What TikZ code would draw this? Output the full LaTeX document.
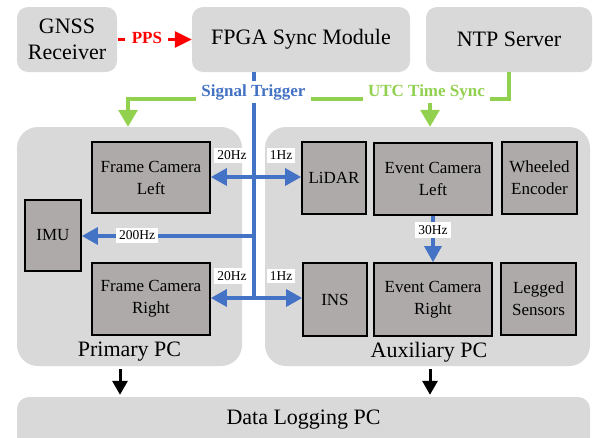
\documentclass[tikz,border=0pt]{standalone}
\usepackage{fontspec}
\newfontfamily\timesrm{Liberation Serif}
\usetikzlibrary{arrows.meta,calc}
\definecolor{panel}{HTML}{D9D9D9}
\definecolor{device}{HTML}{AEAAAA}
\definecolor{sigblue}{HTML}{4472C4}
\definecolor{utcgreen}{HTML}{92D050}
\begin{document}
\begin{tikzpicture}[x=1pt,y=-1pt,
  topbox/.style={fill=panel, rounded corners=11pt, minimum height=65pt,
    inner sep=0pt, align=center, font=\timesrm\fontsize{22}{26}\selectfont},
  pcbox/.style={fill=panel, rounded corners=21pt, inner sep=0pt},
  pctext/.style={inner sep=0pt, font=\timesrm\fontsize{22}{26}\selectfont},
  dev/.style={draw=black, line width=1.7pt, fill=device, inner sep=0pt,
    align=center, font=\timesrm\fontsize{17}{22}\selectfont},
  hz/.style={fill=white, inner xsep=3pt, inner ysep=3pt,
    font=\timesrm\fontsize{13.5}{15}\selectfont},
  sig/.style={draw=sigblue, line width=3.2pt},
  sigtip/.style={-{Triangle[width=17pt,length=16pt]}},
  utc/.style={draw=utcgreen, line width=3.2pt},
  utctip/.style={-{Triangle[width=19pt,length=17pt]}},
  buslabel/.style={fill=white, inner xsep=5pt, inner ysep=3pt,
    font=\timesrm\bfseries\fontsize{17}{20}\selectfont},
  blk/.style={draw=black, line width=3pt, -{Triangle[width=15pt,length=14pt]}},
]
\useasboundingbox (0,0) rectangle (593,437);
\clip (0,0) rectangle (593,437);

% ---- top row: time sources and the sync module
\node[topbox, minimum width=100pt] (gnss) at (67,39.5) {GNSS\\Receiver};
\node[topbox, minimum width=218pt] (fpga) at (301,39.5) {FPGA Sync Module};
\node[topbox, minimum width=166pt] (ntp) at (509,39.5) {NTP Server};

% ---- computer panels
\node[pcbox, minimum width=225pt, minimum height=239pt] (primary) at (129.5,246.5) {};
\node[pcbox, minimum width=325pt, minimum height=239pt] (aux) at (427.5,246.5) {};
\node[pcbox, rounded corners=12pt, minimum width=573pt, minimum height=60pt] (logging) at (303.5,427) {};

\node[pctext] (primarytxt) at (129.5,352) {Primary PC};
\node[pctext] (auxtxt) at (429,352) {Auxiliary PC};
\node[pctext] (loggingtxt) at (303.5,420) {Data Logging PC};

% ---- sensors on the primary PC
\node[dev, minimum width=118pt, minimum height=71pt] (fcl) at (151,177.5) {Frame Camera\\Left};
\node[dev, minimum width=56pt, minimum height=71pt] (imu) at (53,235.5) {IMU};
\node[dev, minimum width=118pt, minimum height=72pt] (fcr) at (151,299) {Frame Camera\\Right};

% ---- sensors on the auxiliary PC
\node[dev, minimum width=64pt, minimum height=72pt] (lidar) at (334,178) {LiDAR};
\node[dev, minimum width=118pt, minimum height=72pt] (ecl) at (433,179) {Event Camera\\Left};
\node[dev, minimum width=75pt, minimum height=72pt] (wheel) at (539.5,178) {Wheeled\\Encoder};
\node[dev, minimum width=64pt, minimum height=73pt] (ins) at (335,299.5) {INS};
\node[dev, minimum width=118pt, minimum height=73pt] (ecr) at (433,299.5) {Event Camera\\Right};
\node[dev, minimum width=75pt, minimum height=72pt] (legged) at (538.5,299) {Legged\\Sensors};

% ---- PPS from the GNSS receiver
\draw[red, line width=3pt, dash pattern=on 7pt off 43pt,
      -{Triangle[width=16pt,length=17pt]}]
  ([xshift=1pt]gnss.east) -- (fpga.west)
  node[pos=0.39, yshift=2pt, inner sep=0pt, text=red,
       font=\timesrm\bfseries\fontsize{17}{20}\selectfont] (ppstxt) {PPS};

% ---- UTC time sync from the NTP server
\coordinate (gleft) at (128,99);
\draw[utc, utctip] (ntp.south) |- (gleft) -- (gleft |- primary.north);
\draw[utc, utctip] ([xshift=2.5pt]aux.north |- gleft) -- ([xshift=2.5pt]aux.north);

% ---- trigger bus from the FPGA
\coordinate (busA) at (254,177);
\coordinate (busB) at (254,236);
\coordinate (busC) at (254,298);
\draw[sig] (fpga.south -| busA) -- (busC);
\draw[sig, sigtip] (busA) -- (fcl.east |- busA);
\draw[sig, sigtip] (busA) -- (lidar.west |- busA);
\draw[sig, sigtip] (busB) -- (imu.east |- busB);
\draw[sig, sigtip] (busC) -- (fcr.east |- busC);
\draw[sig, sigtip] (busC) -- (ins.west |- busC);
\draw[sig, sigtip] (ecl.south) -- (ecr.north);

% ---- rates
\node[hz] (hzfcl) at (232,155.5) {20Hz};
\node[hz] (hzlidar) at (281,155.5) {1Hz};
\node[hz] (hzimu) at (137,235.5) {200Hz};
\node[hz] (hzfcr) at (232,276) {20Hz};
\node[hz] (hzins) at (281,276) {1Hz};
\node[hz] (hzev) at (433,230) {30Hz};

% ---- bus captions
\node[buslabel, text=sigblue] (trig) at (253.5,92) {Signal Trigger};
\node[buslabel, text=utcgreen] (utctxt) at (426.5,92) {UTC Time Sync};

% ---- logging links
\draw[blk] ([xshift=-9.5pt,yshift=-3pt]primary.south) -- ([xshift=-9.5pt,yshift=2pt]primary.south |- logging.north);
\draw[blk] ([xshift=2.5pt,yshift=-3pt]aux.south) -- ([xshift=2.5pt,yshift=2pt]aux.south |- logging.north);
\end{tikzpicture}
\end{document}
